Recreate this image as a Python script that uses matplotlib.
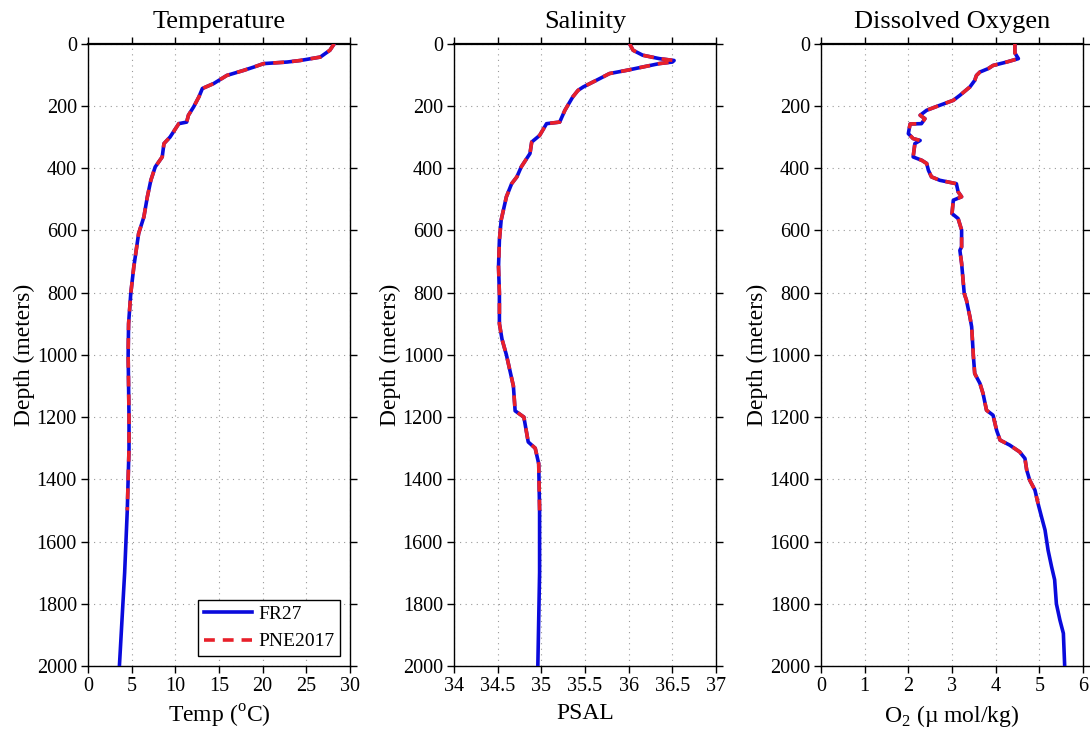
import numpy as np
import matplotlib
matplotlib.use("Agg")
import matplotlib.pyplot as plt

plt.rcParams["font.family"] = "Liberation Serif"
plt.rcParams["mathtext.fontset"] = "custom"
plt.rcParams["mathtext.rm"] = "Liberation Serif"
plt.rcParams["font.size"] = 14

# temperature profile (FR27)
temp_depth = [0, 21, 43, 54, 59, 64, 75, 86, 102, 128, 144, 171, 203, 230, 252, 257,
              300, 321, 364, 396, 439, 492, 557, 610, 717, 803, 900, 1000, 1100, 1200,
              1300, 1400, 1500, 1600, 1700, 1800, 1900, 2000]
temp_vals = [28.2, 27.7, 26.6, 24.3, 22.8, 20.1, 19.0, 17.8, 15.9, 14.4, 13.1, 12.7, 12.1,
             11.5, 11.3, 10.4, 9.4, 8.7, 8.5, 7.7, 7.2, 6.8, 6.4, 5.8, 5.25, 4.9, 4.65,
             4.6, 4.65, 4.7, 4.7, 4.6, 4.5, 4.35, 4.2, 4.0, 3.8, 3.6]

# salinity profile (FR27)
sal_depth = [0, 21, 37, 48, 54, 59, 64, 75, 86, 96, 112, 139, 150, 171, 214, 252, 257,
             295, 316, 353, 396, 428, 450, 492, 567, 631, 717, 803, 900, 950, 1000, 1050,
             1100, 1180, 1200, 1280, 1300, 1350, 1500, 1700, 2000]
sal_vals = [36.01, 36.05, 36.16, 36.35, 36.52, 36.50, 36.35, 36.16, 35.97, 35.78, 35.67,
            35.48, 35.42, 35.36, 35.27, 35.21, 35.06, 34.98, 34.89, 34.87, 34.77, 34.72,
            34.66, 34.60, 34.54, 34.52, 34.51, 34.52, 34.52, 34.55, 34.60, 34.64, 34.68,
            34.70, 34.80, 34.85, 34.93, 34.97, 34.98, 34.98, 34.96]

# dissolved oxygen profile (FR27)
oxy_depth = [0, 30, 48, 59, 70, 80, 91, 102, 118, 139, 166, 182, 198, 214, 230, 241, 257,
             258, 289, 305, 311, 321, 364, 375, 385, 407, 428, 439, 450, 476, 492, 503, 546,
             562, 599, 653, 664, 706, 803, 824, 878, 910, 1006, 1060, 1092, 1124, 1178,
             1194, 1242, 1274, 1290, 1312, 1333, 1370, 1403, 1435, 1478, 1521, 1563, 1628,
             1681, 1723, 1800, 1852, 1895, 2000]
oxy_vals = [4.44, 4.44, 4.52, 4.25, 3.94, 3.83, 3.64, 3.56, 3.52, 3.41, 3.18, 3.03, 2.72,
            2.42, 2.27, 2.38, 2.30, 2.04, 2.00, 2.11, 2.27, 2.15, 2.11, 2.31, 2.42, 2.46,
            2.53, 2.72, 3.10, 3.14, 3.22, 3.03, 3.00, 3.14, 3.22, 3.22, 3.18, 3.22, 3.28,
            3.33, 3.41, 3.45, 3.49, 3.52, 3.64, 3.71, 3.79, 3.94, 4.02, 4.10, 4.32, 4.55,
            4.67, 4.71, 4.78, 4.90, 4.97, 5.05, 5.13, 5.20, 5.28, 5.35, 5.39, 5.47, 5.55,
            5.58]

# PNE2017 profile follows FR27 but stops near 1500 m
pne_max_depth = 1500

panels = [
    ("Temperature", temp_depth, temp_vals, (0, 30), np.arange(0, 31, 5), "Temp ($^{\\rm o}$C)"),
    ("Salinity", sal_depth, sal_vals, (34, 37), np.arange(34, 37.01, 0.5), "PSAL"),
    ("Dissolved Oxygen", oxy_depth, oxy_vals, (0, 6), np.arange(0, 7, 1), "O$_2$ (\u00b5 mol/kg)"),
]
lefts = [0.0807, 0.4165, 0.7532]

fig = plt.figure(figsize=(10.9, 7.33), dpi=100)
for (title, depth, vals, xlim, xticks, xlabel), left in zip(panels, lefts):
    ax = fig.add_axes([left, 0.0914, 0.2404, 0.849])
    depth = np.array(depth)
    vals = np.array(vals)
    ax.plot(vals, depth, color="#0a0adc", lw=2.6, label="FR27", zorder=3)
    m = depth <= pne_max_depth
    ax.plot(vals[m], depth[m], color="#e8202a", lw=2.6, ls=(0, (3, 2.2)),
            label="PNE2017", zorder=4)
    ax.set_xlim(*xlim)
    ax.set_ylim(2000, 0)
    ax.set_xticks(xticks)
    ax.set_xticklabels(["%g" % t for t in xticks])
    ax.set_yticks(np.arange(0, 2001, 200))
    ax.grid(True, ls=(0, (1, 4)), color="#999999", lw=0.8)
    ax.tick_params(direction="out", top=True, right=True, length=5, width=1.0,
                   labelsize=14.5, pad=3)
    for side in ["left", "bottom", "right"]:
        ax.spines[side].set_linewidth(1.0)
    ax.spines["top"].set_linewidth(1.6)
    ax.set_title(title, fontsize=19, pad=11)
    ax.set_xlabel(xlabel, fontsize=17, labelpad=5)
    ax.set_ylabel("Depth (meters)", fontsize=17, labelpad=1)
    if title == "Temperature":
        leg = ax.legend(loc="lower right", fontsize=14, fancybox=False,
                        framealpha=1, edgecolor="black", borderpad=0.3,
                        handlelength=2.5, handletextpad=0.3, borderaxespad=0.5)
        leg.get_frame().set_linewidth(1.0)

fig.savefig("out.png", dpi=100)
